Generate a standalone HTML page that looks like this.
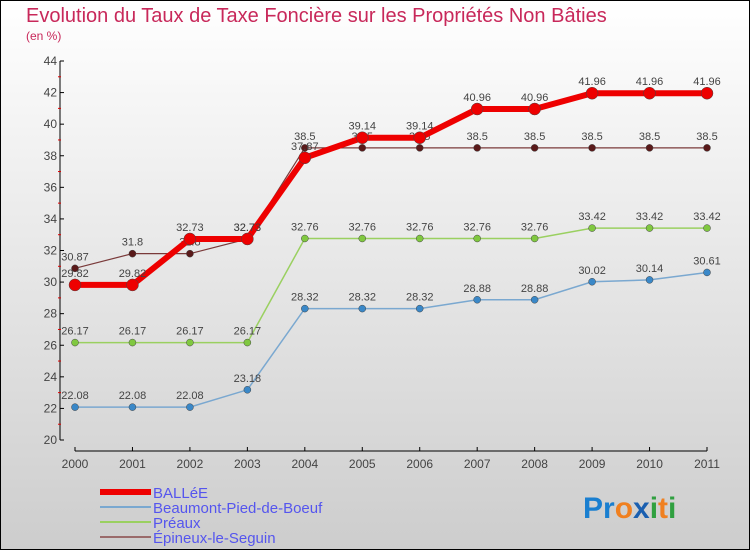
<!DOCTYPE html>
<html><head><meta charset="utf-8"><style>
body{margin:0}
#c{width:750px;height:550px;position:relative;font-family:"Liberation Sans",sans-serif;}
svg text{font-family:"Liberation Sans",sans-serif}
</style></head><body>
<div id="c">
<svg id="s" width="750" height="550" xmlns="http://www.w3.org/2000/svg">
<defs><linearGradient id="bg" x1="0" y1="0" x2="0" y2="1"><stop offset="0" stop-color="#ffffff"/><stop offset="1" stop-color="#cdcdcd"/></linearGradient></defs>
<rect x="0.5" y="0.5" width="749" height="549" fill="url(#bg)" stroke="#000"/>
<text x="26" y="22" font-size="20" fill="#c8285a">Evolution du Taux de Taxe Foncière sur les Propriétés Non Bâties</text>
<text x="26" y="40" font-size="12" fill="#c8285a">(en %)</text>
<g id="axes"></g><g id="series"></g><g id="legend"></g>
<text x="583" y="518" font-size="30" font-weight="bold"><tspan fill="#1a7fd0">Pr</tspan><tspan fill="#f08020">o</tspan><tspan fill="#1a5fb0">x</tspan><tspan fill="#30a040">i</tspan><tspan fill="#f08020">t</tspan><tspan fill="#30a040">i</tspan></text>
</svg></div>
<script>
const years=[2000,2001,2002,2003,2004,2005,2006,2007,2008,2009,2010,2011];
const yTicks=[20,22,24,26,28,30,32,34,36,38,40,42,44];
const ballee=[29.82,29.82,32.73,32.73,37.87,39.14,39.14,40.96,40.96,41.96,41.96,41.96];
const beaumont=[22.08,22.08,22.08,23.18,28.32,28.32,28.32,28.88,28.88,30.02,30.14,30.61];
const preaux=[26.17,26.17,26.17,26.17,32.76,32.76,32.76,32.76,32.76,33.42,33.42,33.42];
const epineux=[30.87,31.8,31.8,32.73,38.5,38.5,38.5,38.5,38.5,38.5,38.5,38.5];
const NS='http://www.w3.org/2000/svg';
const X=i=>75+i*(707-75)/11, Y=v=>440-(v-20)*(440-61)/24;
function mk(p,t,a){const e=document.createElementNS(NS,t);for(const k in a)e.setAttribute(k,a[k]);p.appendChild(e);return e;}
const ax=document.getElementById('axes');
let yl=mk(ax,'line',{x1:60,y1:61,x2:60,y2:440,stroke:'#000'});


yTicks.forEach(v=>{mk(ax,'line',{x1:60,y1:Y(v),x2:64,y2:Y(v),stroke:'#000'});
 if(v<44)mk(ax,'line',{x1:58,y1:Y(v+1),x2:61,y2:Y(v+1),stroke:'#d00'});
 const t=mk(ax,'text',{x:57,y:Y(v)+4,'font-size':12,'text-anchor':'end',fill:'#444'});t.textContent=v;
 
 });
let xl=mk(ax,'line',{x1:75,y1:451,x2:707,y2:451,stroke:'#000'});


years.forEach((y,i)=>{mk(ax,'line',{x1:X(i),y1:447,x2:X(i),y2:451,stroke:'#000'});
 const t=mk(ax,'text',{x:X(i),y:468,'font-size':12,'text-anchor':'middle',fill:'#444'});t.textContent=y;
 
 });
const sg=document.getElementById('series');
const defs=[[epineux,'#7a3a3a','#5a1a1a',1.2,3.5,'epineux'],[beaumont,'#7aa8d0','#3a88c8',1.5,3.5,'beaumont'],[preaux,'#9ad060','#80c840',1.5,3.5,'preaux'],[ballee,'#ee0000','#ee0000',6,6,'ballee']];
defs.forEach(([d,c,mc,w,r,n])=>{
 const p=mk(sg,'polyline',{points:d.map((v,i)=>X(i)+','+Y(v)).join(' '),fill:'none',stroke:c,'stroke-width':w});
 
 
 d.forEach((v,i)=>{const m=mk(sg,'circle',{cx:X(i),cy:Y(v),r:r,fill:mc,stroke:'#444','stroke-width':0.5});
  
  
  const t=mk(sg,'text',{x:X(i),y:Y(v)-8,'font-size':11,'text-anchor':'middle',fill:'#444'});t.textContent=v;
  
  });
});
const lg=document.getElementById('legend');
[['BALLéE','#ee0000',6],['Beaumont-Pied-de-Boeuf','#7aa8d0',2],['Préaux','#9ad060',2],['Épineux-le-Seguin','#9a6a6a',2]].forEach(([n,c,w],i)=>{
 const y=492+i*15;
 const l=mk(lg,'line',{x1:100,y1:y,x2:151,y2:y,stroke:c,'stroke-width':w});
 
 
 const t=mk(lg,'text',{x:153,y:y+6,'font-size':15,fill:'#5555ee'});t.textContent=n;
 
 });
</script></body></html>
